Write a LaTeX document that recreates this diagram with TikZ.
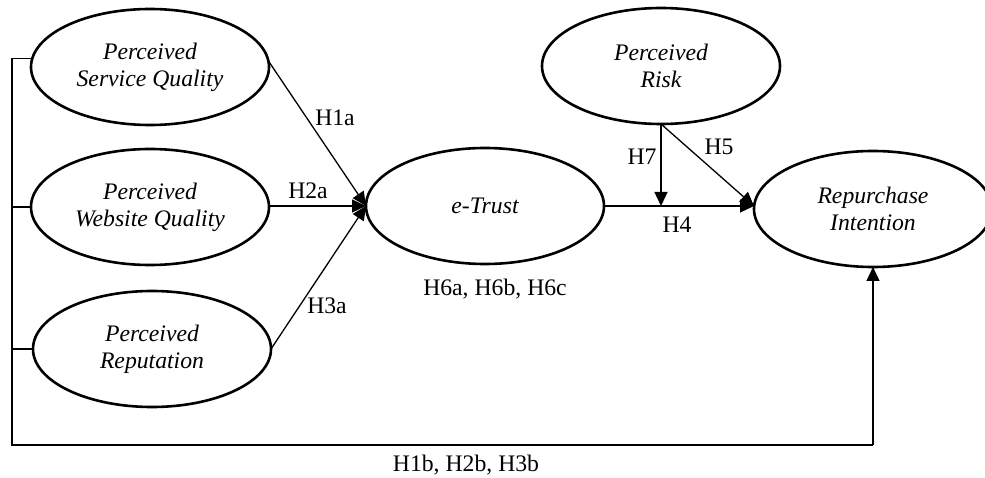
\documentclass[tikz,border=0pt]{standalone}
\usepackage{fontspec}
\setmainfont{Liberation Serif}
\usetikzlibrary{shapes.geometric,arrows.meta}
\begin{document}
\begin{tikzpicture}[x=1pt,y=-1pt,
  construct/.style={ellipse,draw,line width=2.6pt,minimum width=238pt,minimum height=116pt,
    inner sep=0pt,outer sep=0pt,align=center,font=\fontsize{23.7}{27}\selectfont\itshape},
  conn/.style={line width=1.3pt},
  arr/.style={conn,-{Triangle[length=14pt,width=13pt]}},
  hlabel/.style={inner sep=0pt,font=\fontsize{23.7}{27}\selectfont}]
\useasboundingbox (0,0) rectangle (985,478);
\node[construct] (PSQ) at (150,67) {Perceived\\Service Quality};
\node[construct] (PWQ) at (150,207) {Perceived\\Website Quality};
\node[construct] (PR) at (152,349) {Perceived\\Reputation};
\node[construct] (eT) at (485,206) {e-Trust};
\node[construct] (Risk) at (661,66) {Perceived\\Risk};
\node[construct] (RI) at (873,209) {Repurchase\\Intention};
\coordinate (L) at (12,445);
\coordinate (J) at (Risk.south |- eT.east);
% paths into e-Trust
\draw[arr] (PSQ.3) -- (eT.west);
\draw[arr] (PWQ.east |- eT.west) -- (eT.west);
\draw[arr] (PR.east) -- (eT.west);
% e-Trust to RI
\draw[arr] (eT.east) -- (RI.west |- eT.east);
\draw[arr] (Risk.south) -- (J);
\draw[arr] (Risk.south) -- (RI.west |- eT.east);
% direct paths
\draw[conn] (PSQ.176) -- (PSQ.176 -| L) -- (L) -- (L -| RI.south);
\draw[arr] (L -| RI.south) -- (RI.south);
\draw[conn] (PWQ.west) -- (PWQ.west -| L);
\draw[conn] (PR.west) -- (PR.west -| L);
% labels
\node[hlabel] (h1a) at (335,118) {H1a};
\node[hlabel] (h2a) at (308,191) {H2a};
\node[hlabel] (h3a) at (327,306) {H3a};
\node[hlabel] (h7) at (642,157) {H7};
\node[hlabel] (h5) at (719,147) {H5};
\node[hlabel] (h4) at (677,225) {H4};
\node[hlabel] (h6) at (495,289) {H6a, H6b, H6c};
\node[hlabel] (h1b) at (466,465) {H1b, H2b, H3b};
\end{tikzpicture}
\end{document}
